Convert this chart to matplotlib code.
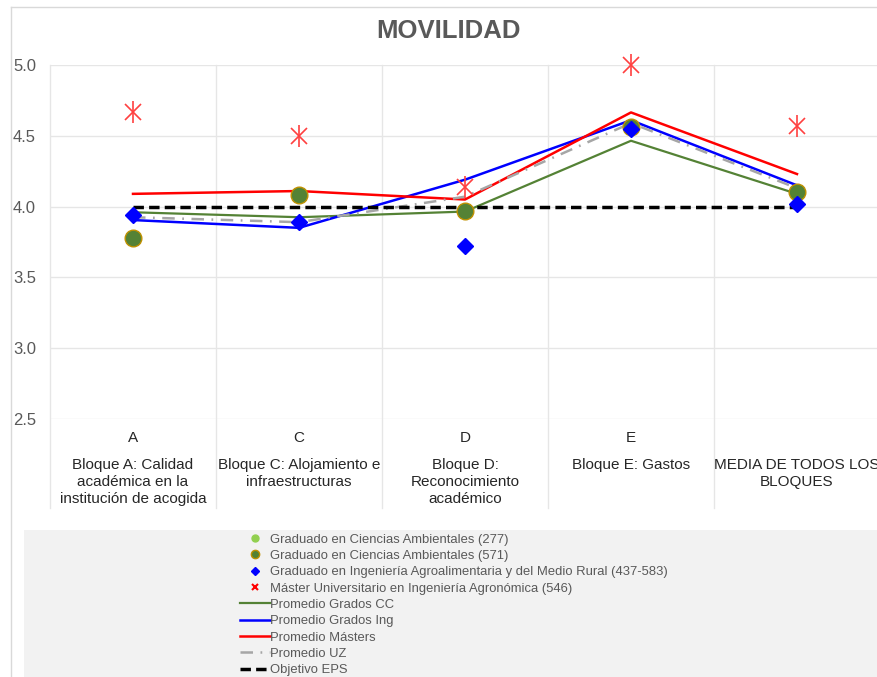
import numpy as np
import matplotlib
matplotlib.use("Agg")
import matplotlib.pyplot as plt
from matplotlib.lines import Line2D
from matplotlib.patches import Rectangle

plt.rcParams['font.family'] = ['Liberation Sans', 'DejaVu Sans']

# categories
letters = ["A", "C", "D", "E", ""]
blocks = ["Bloque A: Calidad\nacadémica en la\ninstitución de acogida",
          "Bloque C: Alojamiento e\ninfraestructuras",
          "Bloque D:\nReconocimiento\nacadémico",
          "Bloque E: Gastos",
          "MEDIA DE TODOS LOS\nBLOQUES"]

# point series
cc_277 = [np.nan, np.nan, np.nan, np.nan, np.nan]
cc_571 = [3.78, 4.08, 3.97, 4.56, 4.10]
ing = [3.94, 3.89, 3.72, 4.55, 4.02]
master = [4.67, 4.50, 4.14, 5.00, 4.57]

# line series
prom_cc = [3.96, 3.925, 3.965, 4.465, 4.09]
prom_ing = [3.905, 3.85, 4.19, 4.61, 4.15]
prom_master = [4.09, 4.11, 4.05, 4.665, 4.23]
prom_uz = [3.925, 3.89, 4.07, 4.59, 4.13]
objetivo = [4.0, 4.0, 4.0, 4.0, 4.0]

yticks = [2.5, 3.0, 3.5, 4.0, 4.5, 5.0]

W, H = 877, 677
fig = plt.figure(figsize=(W / 100, H / 100), dpi=100)
fig.patch.set_facecolor('white')

# chart frame and legend background
fig.add_artist(Line2D([10.5 / W, 10.5 / W], [0, 1 - 7 / H], color='#d9d9d9', lw=1))
fig.add_artist(Line2D([10.5 / W, 1], [1 - 7 / H, 1 - 7 / H], color='#d9d9d9', lw=1))
fig.add_artist(Rectangle((24 / W, 0), 1 - 24 / W, 147 / H, color='#f2f2f2', lw=0, zorder=0))

ax = fig.add_axes([50 / W, 1 - 419 / H, 830 / W, 354 / H])
x = np.arange(len(blocks))

ax.set_xlim(-0.5, len(blocks) - 0.5)
ax.set_ylim(2.5, 5.0)
ax.set_yticks(yticks)
ax.set_yticklabels(["%.1f" % v for v in yticks])
ax.tick_params(axis='y', length=0, pad=10, labelsize=12, labelcolor='#595959')
ax.set_xticks([])
for s in ax.spines.values():
    s.set_visible(False)
for v in yticks:
    ax.axhline(v, color='#e6e6e6', lw=1, zorder=0)

# vertical grid lines going down through the category labels
for b in np.arange(len(blocks) + 1) - 0.5:
    ax.plot([b, b], [-0.25, 1], transform=ax.get_xaxis_transform(), color='#e6e6e6',
            lw=1, clip_on=False, zorder=0)

# category labels
for i in x:
    ax.text(i, -0.035, letters[i], transform=ax.get_xaxis_transform(), ha='center', va='top',
            fontsize=11, color='#262626')
    ax.text(i, -0.11, blocks[i], transform=ax.get_xaxis_transform(), ha='center', va='top',
            fontsize=11, color='#262626', linespacing=1.27)

# lines
uz_dash = (5, 3, 0.7, 3)
ax.plot(x, prom_cc, color='#548235', lw=1.6, zorder=3)
ax.plot(x, prom_ing, color='#0000ff', lw=1.8, zorder=3)
ax.plot(x, prom_master, color='#ff0000', lw=1.8, zorder=3)
ax.plot(x, prom_uz, color='#a6a6a6', lw=1.8, dashes=uz_dash, zorder=3)
ax.plot(x, objetivo, color='black', lw=2.5, dashes=(3, 1.5), zorder=3)

# markers
ax.plot(x, cc_277, 'o', color='#92d050', ms=8, zorder=4, clip_on=False)
ax.plot(x, cc_571, 'o', color='#548235', mec='#bf9000', mew=1, ms=12, zorder=4, clip_on=False)
ax.plot(x, ing, 'D', color='#0000ff', ms=8, zorder=5, clip_on=False)
ax.plot(x, master, 'x', color='#ff4040', ms=12, mew=1.2, zorder=5, clip_on=False)
ax.plot(x, master, '|', color='#ff4040', ms=16, mew=1.2, zorder=5, clip_on=False)

fig.text(449 / W, 1 - 31 / H, "MOVILIDAD", ha='center', va='center', fontsize=18.5,
         fontweight='bold', color='#595959')

handles = [
    Line2D([], [], ls='none', marker='o', color='#92d050', ms=5),
    Line2D([], [], ls='none', marker='o', color='#548235', mec='#bf9000', ms=6),
    Line2D([], [], ls='none', marker='D', color='#0000ff', ms=4),
    Line2D([], [], ls='none', marker='x', color='#ff0000', ms=5, mew=1.5),
    Line2D([], [], color='#548235', lw=1.6),
    Line2D([], [], color='#0000ff', lw=1.8),
    Line2D([], [], color='#ff0000', lw=1.8),
    Line2D([], [], color='#a6a6a6', lw=1.8, dashes=uz_dash),
    Line2D([], [], color='black', lw=2.5, dashes=(3, 1.5)),
]
labels = ["Graduado en Ciencias Ambientales (277)",
          "Graduado en Ciencias Ambientales (571)",
          "Graduado en Ingeniería Agroalimentaria y del Medio Rural (437-583)",
          "Máster Universitario en Ingeniería Agronómica (546)",
          "Promedio Grados CC", "Promedio Grados Ing", "Promedio Másters",
          "Promedio UZ", "Objetivo EPS"]
leg = fig.legend(handles, labels, loc='upper left', bbox_to_anchor=(240 / W, 1 - 533.5 / H),
                 frameon=False, fontsize=9.4, handlelength=2.3, handletextpad=0.0,
                 labelspacing=0.32, borderpad=0, borderaxespad=0)
for t in leg.get_texts():
    t.set_color('#595959')

fig.savefig("out.png", dpi=100)
